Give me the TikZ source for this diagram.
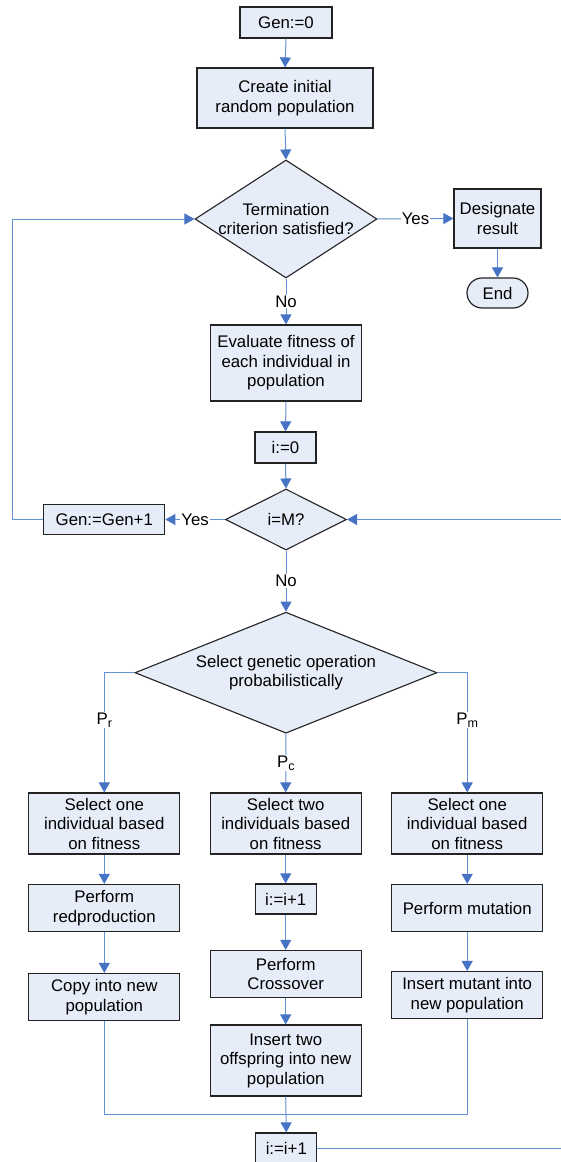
\documentclass[tikz,border=0pt]{standalone}
\usepackage{fontspec}
\setmainfont{Liberation Sans}
\usetikzlibrary{arrows.meta,shapes.geometric}
\definecolor{boxfill}{RGB}{231,237,248}
\definecolor{boxline}{RGB}{35,35,35}
\definecolor{wireblue}{RGB}{100,145,212}
\definecolor{tipblue}{RGB}{70,115,196}
\newcommand\opsub[1]{\raisebox{-3pt}{\fontsize{12.5}{12.5}\selectfont #1}}

\begin{document}
\begin{tikzpicture}[x=1pt,y=-1pt,
  font=\fontsize{16.8}{19.5}\selectfont,
  box/.style={draw=boxline, fill=boxfill, line width=1.2pt, inner sep=0pt, align=center},
  dec/.style={diamond, draw=boxline, fill=boxfill, line width=1.1pt, inner sep=0pt},
  stadium/.style={box, rounded corners=15pt},
  link/.style={draw=wireblue, line width=1pt},
  conn/.style={link, -{Triangle[length=10pt,width=11pt,color=tipblue]}},
  lab/.style={fill=white, inner sep=1pt}]

\useasboundingbox (0,0) rectangle (561,1162);
\clip (0,0) rectangle (561,1162);

% ---- main sequence ----
\node[box, minimum width=92pt, minimum height=31pt] (gen0) at (286,22.5) {Gen:=0};
\node[box, minimum width=176pt, minimum height=60pt] (create) at (285,98) {Create initial\\random population};
\node[dec, minimum width=182pt, minimum height=118pt,
      label={[align=center]center:{Termination\\criterion satisfied?}}] (term) at (286,219) {};
\node[box, minimum width=87pt, minimum height=59pt] (desig) at (497.5,218.5) {Designate\\result};
\node[stadium, minimum width=61pt, minimum height=30pt] (end) at (497.5,293) {End};
\node[box, minimum width=151pt, minimum height=76pt] (eval) at (286,363) {Evaluate fitness of\\each individual in\\population};
\node[box, minimum width=61pt, minimum height=31pt] (i0) at (285.5,447.5) {i:=0};
\node[dec, minimum width=121pt, minimum height=61pt,
      label={center:i=M?}] (iM) at (286,519.5) {};
\node[box, minimum width=121pt, minimum height=30pt] (gengen) at (104.3,519.5) {Gen:=Gen+1};
\node[dec, minimum width=302pt, minimum height=121pt,
      label={[align=center]center:{Select genetic operation\\probabilistically}}] (sel) at (286,672.7) {};

% ---- reproduction column ----
\node[box, minimum width=151pt, minimum height=61pt] (sel1) at (104.3,823.5) {Select one\\individual based\\on fitness};
\node[box, minimum width=151pt, minimum height=47pt] (rep) at (104.3,908) {Perform\\redproduction};
\node[box, minimum width=151pt, minimum height=47pt] (copy) at (104.3,997) {Copy into new\\population};

% ---- crossover column ----
\node[box, minimum width=151pt, minimum height=61pt] (sel2) at (285.7,823.5) {Select two\\individuals based\\on fitness};
\node[box, minimum width=61pt, minimum height=30pt] (inc1) at (285.7,899) {i:=i+1};
\node[box, minimum width=151pt, minimum height=47pt] (cross) at (285.7,974) {Perform\\Crossover};
\node[box, minimum width=151pt, minimum height=71pt] (ins2) at (285.7,1060.5) {Insert two\\offspring into new\\population};

% ---- mutation column ----
\node[box, minimum width=151pt, minimum height=61pt] (sel3) at (467.2,823.5) {Select one\\individual based\\on fitness};
\node[box, minimum width=151pt, minimum height=47pt] (mut) at (467.2,908) {Perform mutation};
\node[box, minimum width=151pt, minimum height=47pt] (insm) at (467.2,995) {Insert mutant into\\new population};

\node[box, minimum width=61pt, minimum height=31pt] (inc2) at (286.3,1148.5) {i:=i+1};

% ---- connectors ----
\draw[conn] (gen0.south) -- (create.north);
\draw[conn] (create.south) -- (term.north);
\draw[conn] (term.east) -- node[lab] (yes1) {Yes} (desig.west);
\draw[conn] (desig.south) -- (end.north);
\draw[conn] (term.south) -- node[lab] (no1) {No} (eval.north);
\draw[conn] (eval.south) -- (i0.north);
\draw[conn] (i0.south) -- (iM.north);
\draw[conn] (iM.west) -- node[lab] (yes2) {Yes} (gengen.east);
\coordinate (loopL) at (12.5,519.5);
\draw[conn] (gengen.west) -- (loopL) |- (term.west);
\draw[conn] (iM.south) -- node[lab] (no2) {No} (sel.north);

\draw[conn] (sel.west) -| (sel1.north);
\node[lab] (pr) at (104.3,720) {P\opsub{r}};
\draw[conn] (sel.south) -- node[lab] (pc) {P\opsub{c}} (sel2.north);
\draw[conn] (sel.east) -| (sel3.north);
\node[lab] (pm) at (467.2,720) {P\opsub{m}};

\draw[conn] (sel1.south) -- (rep.north);
\draw[conn] (rep.south) -- (copy.north);
\draw[conn] (sel2.south) -- (inc1.north);
\draw[conn] (inc1.south) -- (cross.north);
\draw[conn] (cross.south) -- (ins2.north);
\draw[conn] (sel3.south) -- (mut.north);
\draw[conn] (mut.south) -- (insm.north);

\coordinate (merge) at (286,1114);
\draw[link] (copy.south) |- (merge) -| (insm.south);
\draw[conn] (ins2.south) -- (inc2.north);

\coordinate (loopR) at (575,1148.5);
\draw[conn] (inc2.east) -- (loopR) |- (iM.east);
\end{tikzpicture}
\end{document}
